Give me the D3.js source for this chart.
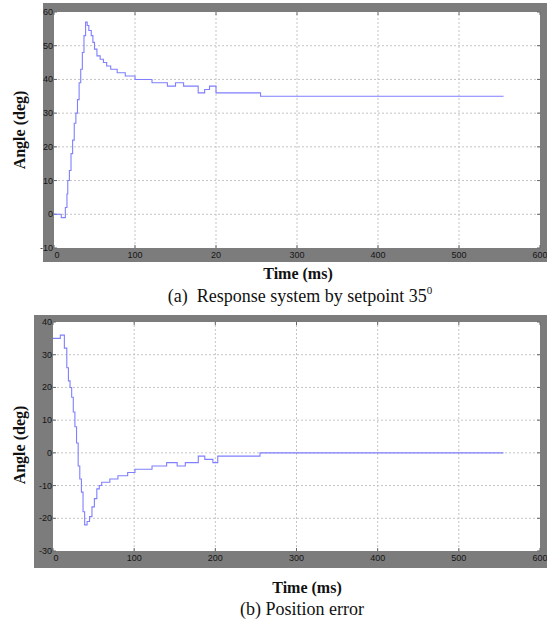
<!DOCTYPE html>
<html>
<head>
<meta charset="utf-8">
<script src="https://cdn.jsdelivr.net/npm/d3@7"></script>
<style>
  body { margin: 0; background: #fff; }
  svg { display: block; }
</style>
</head>
<body>
<svg id="chart"></svg>
<script>
var width = 547;
var height = 622;

var serif = "'Liberation Serif', 'Times New Roman', serif";
var sans = "'Liberation Sans', 'DejaVu Sans', Arial, sans-serif";

// (a) response to a 35 deg setpoint
var timeA = [0, 9, 14, 16, 17, 19, 21, 23, 25, 27, 29, 31, 33, 35, 37, 39, 41, 43, 46, 48,
             50, 53, 57, 61, 65, 70, 78, 88, 100, 121, 140, 150, 160, 178, 186, 192, 200, 255, 555];
var angleA = [0, -1, 2, 6, 10, 13, 18, 22, 27, 30, 34, 39, 43, 48, 53, 57, 56, 54.5, 53, 51,
              49, 47, 46, 45, 44, 43, 42, 41, 40, 39, 38, 39, 38, 36, 37, 38, 36, 35, 35];

// (b) position error
var timeB = [0, 9, 14, 17, 19, 21, 23, 25, 27, 29, 31, 33, 35, 37, 39, 42, 45, 48, 51, 54,
             57, 60, 70, 80, 92, 101, 122, 140, 153, 163, 179, 187, 197, 203, 255, 555];
var errorB = [35, 36, 32, 26, 22, 20, 17, 12.5, 8, 3, -4, -8, -12, -18, -22, -21, -19.5, -16.5, -14, -11,
              -10, -9, -8, -7, -6, -5, -4, -3, -4, -3, -1, -2, -3, -1, 0, 0];

var xTicks = [0, 100, 200, 300, 400, 500, 600];
var xTickLabelsA = ["0", "100", "20", "300", "400", "500", "600"]; // the original really says "20"
var xTickLabelsB = ["0", "100", "200", "300", "400", "500", "600"];
var yTicksA = [-10, 0, 10, 20, 30, 40, 50, 60];
var yTicksB = [-30, -20, -10, 0, 10, 20, 30, 40];

var svg = d3.select("#chart").attr("width", width).attr("height", height);

function drawPanel(opt) {
  var g = svg.append("g");

  // grey matlab-ish frame
  g.append("rect")
    .attr("x", opt.frame[0]).attr("y", opt.frame[1])
    .attr("width", opt.frame[2] - opt.frame[0]).attr("height", opt.frame[3] - opt.frame[1])
    .attr("fill", "#7c7c7c");

  var x = d3.scaleLinear().domain([0, 600]).range([opt.plot[0], opt.plot[2]]);
  var y = d3.scaleLinear().domain(opt.yDomain).range([opt.plot[3], opt.plot[1]]);

  g.append("rect")
    .attr("x", x(0)).attr("y", y(opt.yDomain[1]))
    .attr("width", x(600) - x(0)).attr("height", y(opt.yDomain[0]) - y(opt.yDomain[1]))
    .attr("fill", "#fff");

  // dotted grid
  g.selectAll(".vgrid").data(xTicks.slice(1, -1)).enter().append("line")
    .attr("x1", function (d) { return x(d); }).attr("x2", function (d) { return x(d); })
    .attr("y1", y(opt.yDomain[0])).attr("y2", y(opt.yDomain[1]))
    .attr("stroke", "#c4c4c4").attr("stroke-dasharray", "2,2");
  g.selectAll(".hgrid").data(opt.yTicks.slice(1, -1)).enter().append("line")
    .attr("x1", x(0)).attr("x2", x(600))
    .attr("y1", function (d) { return y(d); }).attr("y2", function (d) { return y(d); })
    .attr("stroke", "#c4c4c4").attr("stroke-dasharray", "2,2");

  // small inward ticks on all sides
  opt.yTicks.forEach(function (d) {
    g.append("line").attr("x1", x(0)).attr("x2", x(0) + 3).attr("y1", y(d)).attr("y2", y(d)).attr("stroke", "#666");
    g.append("line").attr("x1", x(600)).attr("x2", x(600) - 3).attr("y1", y(d)).attr("y2", y(d)).attr("stroke", "#666");
  });
  xTicks.forEach(function (d) {
    g.append("line").attr("x1", x(d)).attr("x2", x(d)).attr("y1", y(opt.yDomain[0])).attr("y2", y(opt.yDomain[0]) - 3).attr("stroke", "#666");
    g.append("line").attr("x1", x(d)).attr("x2", x(d)).attr("y1", y(opt.yDomain[1])).attr("y2", y(opt.yDomain[1]) + 3).attr("stroke", "#666");
  });

  // tick labels
  g.selectAll(".ylbl").data(opt.yTicks).enter().append("text")
    .attr("font-family", sans).attr("font-size", 9).attr("fill", "#151515")
    .attr("x", x(0) - 1).attr("y", function (d) { return y(d) + 3; })
    .attr("text-anchor", "end")
    .text(function (d) { return d; });
  g.selectAll(".xlbl").data(xTicks).enter().append("text")
    .attr("font-family", sans).attr("font-size", 9).attr("fill", "#151515")
    .attr("x", function (d) { return x(d) + (d === 0 ? 3 : 0); })
    .attr("y", y(opt.yDomain[0]) + 10)
    .attr("text-anchor", "middle")
    .text(function (d, i) { return opt.xLabels[i]; });

  // the response line
  var pts = opt.t.map(function (t, i) { return [t, opt.v[i]]; });
  var line = d3.line()
    .x(function (d) { return x(d[0]); })
    .y(function (d) { return y(d[1]); })
    .curve(d3.curveStepAfter);
  g.append("path").datum(pts)
    .attr("d", line)
    .attr("fill", "none")
    .attr("stroke", "#7f7fff")
    .attr("stroke-width", 1.1);

  // titles
  g.append("text")
    .attr("font-family", serif).attr("font-size", 16).attr("font-weight", "bold").attr("fill", "#111")
    .attr("x", opt.xTitle[0]).attr("y", opt.xTitle[1])
    .attr("text-anchor", "middle").text("Time (ms)");
  g.append("text")
    .attr("font-family", serif).attr("font-size", 16).attr("font-weight", "bold").attr("fill", "#111")
    .attr("transform", "translate(" + opt.yTitle[0] + "," + opt.yTitle[1] + ") rotate(-90)")
    .attr("text-anchor", "middle").text("Angle (deg)");

  return g;
}

drawPanel({
  frame: [43, 3, 547, 262], plot: [54, 12, 540, 248], yDomain: [-10, 60],
  yTicks: yTicksA, xLabels: xTickLabelsA, t: timeA, v: angleA,
  xTitle: [298, 279], yTitle: [25, 130]
});

drawPanel({
  frame: [34, 315, 547, 568], plot: [53, 322, 540, 551], yDomain: [-30, 40],
  yTicks: yTicksB, xLabels: xTickLabelsB, t: timeB, v: errorB,
  xTitle: [307, 593], yTitle: [25, 445]
});

// captions
var capA = svg.append("text")
  .attr("font-family", serif).attr("font-size", 18).attr("fill", "#111")
  .attr("x", 300).attr("y", 302).attr("text-anchor", "middle");
capA.append("tspan").attr("xml:space", "preserve").text("(a)  Response system by setpoint 35");
capA.append("tspan").attr("dy", -8).attr("font-size", "11px").text("0");

svg.append("text")
  .attr("font-family", serif).attr("font-size", 18).attr("fill", "#111")
  .attr("x", 302).attr("y", 615).attr("text-anchor", "middle")
  .text("(b) Position error");
</script>
</body>
</html>
